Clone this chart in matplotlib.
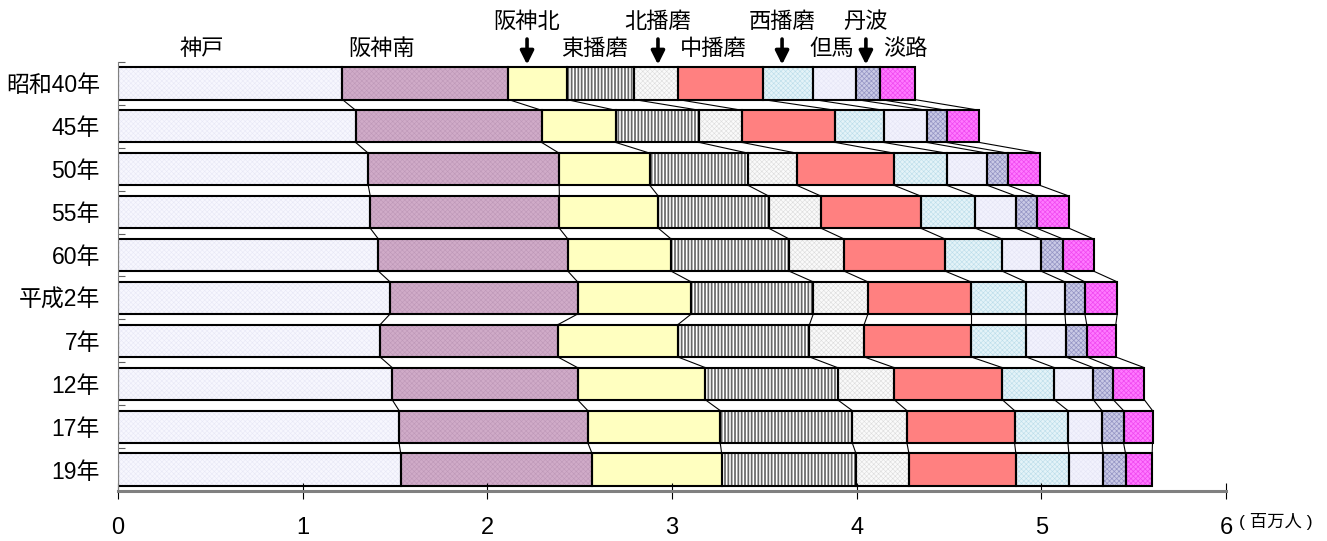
import matplotlib
matplotlib.use("Agg")
import matplotlib.pyplot as plt
import numpy as np

plt.rcParams["font.family"] = ["Liberation Sans", "Noto Sans CJK JP", "DejaVu Sans"]

# 兵庫県 地域別人口 (百万人)
years = ["昭和40年", "45年", "50年", "55年", "60年", "平成2年", "7年", "12年", "17年", "19年"]
regions = ["神戸", "阪神南", "阪神北", "東播磨", "北播磨", "中播磨", "西播磨", "但馬", "丹波", "淡路"]

kobe = [1.215, 1.287, 1.355, 1.366, 1.410, 1.473, 1.419, 1.485, 1.522, 1.531]
hanshin_s = [0.899, 1.007, 1.034, 1.024, 1.026, 1.016, 0.962, 1.004, 1.022, 1.036]
hanshin_n = [0.316, 0.401, 0.491, 0.536, 0.559, 0.615, 0.650, 0.692, 0.717, 0.702]
higashi_harima = [0.365, 0.453, 0.532, 0.598, 0.639, 0.661, 0.713, 0.716, 0.715, 0.727]
kita_harima = [0.237, 0.231, 0.264, 0.283, 0.298, 0.296, 0.296, 0.307, 0.296, 0.287]
naka_harima = [0.460, 0.505, 0.527, 0.540, 0.547, 0.558, 0.579, 0.585, 0.583, 0.579]
nishi_harima = [0.274, 0.262, 0.285, 0.296, 0.309, 0.297, 0.298, 0.282, 0.289, 0.287]
tajima = [0.230, 0.234, 0.220, 0.220, 0.210, 0.212, 0.215, 0.211, 0.184, 0.186]
tamba = [0.132, 0.107, 0.112, 0.112, 0.119, 0.108, 0.114, 0.108, 0.117, 0.121]
awaji = [0.186, 0.177, 0.172, 0.175, 0.166, 0.175, 0.157, 0.168, 0.157, 0.144]

series = [kobe, hanshin_s, hanshin_n, higashi_harima, kita_harima,
          naka_harima, nishi_harima, tajima, tamba, awaji]

# (face, hatch, hatch colour, hatch width)
styles = [
    ("#F7F7FE", "xxxxxxx", "#E8E8F6", 0.4),
    ("#D0ABC8", "xxxxxxx", "#BE98B8", 0.4),
    ("#FFFFC0", "", None, 0),
    ("#FFFFFF", "|||||", "#686868", 1.25),
    ("#FAFAFA", "xxxxxxx", "#DCDCDC", 0.4),
    ("#FF8080", "", None, 0),
    ("#E4F3F8", "xxxxxxx", "#BBDDEA", 0.4),
    ("#F2F2FD", "xxxxxxx", "#E6E6F6", 0.4),
    ("#CACAE6", "xxxxxxx", "#9494C4", 0.5),
    ("#FF7AFF", "xxxxxxx", "#F048F0", 0.5),
]

# region label positions above the first bar (x in data units, upper row or not)
label_x = [0.455, 1.43, 2.215, 2.578, 2.924, 3.222, 3.596, 3.866, 4.05, 4.262]
label_upper = [False, False, True, False, True, False, True, False, True, False]

fig = plt.figure(figsize=(13.27, 5.41), dpi=100)
ax = fig.add_axes([118 / 1327, 50 / 541, 1108 / 1327, 429 / 541])

data = np.array(series)
cum = np.cumsum(data, axis=0)
left = cum - data
ypos = np.arange(len(years))
h = 0.75

for k in range(len(regions)):
    face, hatch, hcol, hlw = styles[k]
    if hatch:
        with plt.rc_context({"hatch.linewidth": hlw}):
            bars = ax.barh(ypos, data[k], left=left[k], height=h, color=face,
                           hatch=hatch, edgecolor=hcol, linewidth=0, zorder=1)
        for b in bars:
            if hasattr(b, "set_hatch_linewidth"):
                b.set_hatch_linewidth(hlw)
    else:
        ax.barh(ypos, data[k], left=left[k], height=h, color=face,
                linewidth=0, zorder=1)
    ax.barh(ypos, data[k], left=left[k], height=h, facecolor="none",
            edgecolor="black", linewidth=1.5, zorder=2)

# lines joining segment boundaries of neighbouring years
for i in range(len(years) - 1):
    for k in range(len(regions)):
        ax.plot([cum[k, i], cum[k, i + 1]], [i + h / 2, i + 1 - h / 2],
                color="black", linewidth=0.8, zorder=2)

ax.set_xlim(0, 6)
ax.set_ylim(len(years) - 0.5, -0.5)
ax.set_xticks(range(7))
ax.set_yticks(ypos)
ax.set_yticklabels(years)
ax.set_yticks(np.arange(-0.5, len(years), 1), minor=True)
ax.tick_params(axis="x", direction="inout", length=11.5, width=0.8,
               pad=13, labelsize=17)
ax.tick_params(axis="y", which="major", length=0, pad=13, labelsize=16.5)
ax.tick_params(axis="y", which="minor", direction="in", length=5,
               width=0.8, color="#606060")
for side in ["top", "right"]:
    ax.spines[side].set_visible(False)
ax.spines["bottom"].set_color("#808080")
ax.spines["bottom"].set_linewidth(2.2)
ax.spines["left"].set_color("#808080")
ax.spines["left"].set_linewidth(0.8)

# region names with arrows on the crowded ones
for k, name in enumerate(regions):
    if label_upper[k]:
        ax.text(label_x[k], -1.43, name, ha="center", va="center",
                fontsize=16, clip_on=False)
        ax.annotate("", xy=(label_x[k], -h / 2), xytext=(label_x[k], -1.1),
                    arrowprops=dict(arrowstyle="-|>,head_length=0.8,head_width=0.4",
                                    color="black", linewidth=2.6),
                    annotation_clip=False)
    else:
        ax.text(label_x[k], -0.80, name, ha="center", va="center",
                fontsize=16, clip_on=False)

fig.text(1239 / 1327, 1 - 521 / 541, "( 百万人 )", ha="left", va="center",
         fontsize=12.5)

fig.savefig("out.png", dpi=100)
